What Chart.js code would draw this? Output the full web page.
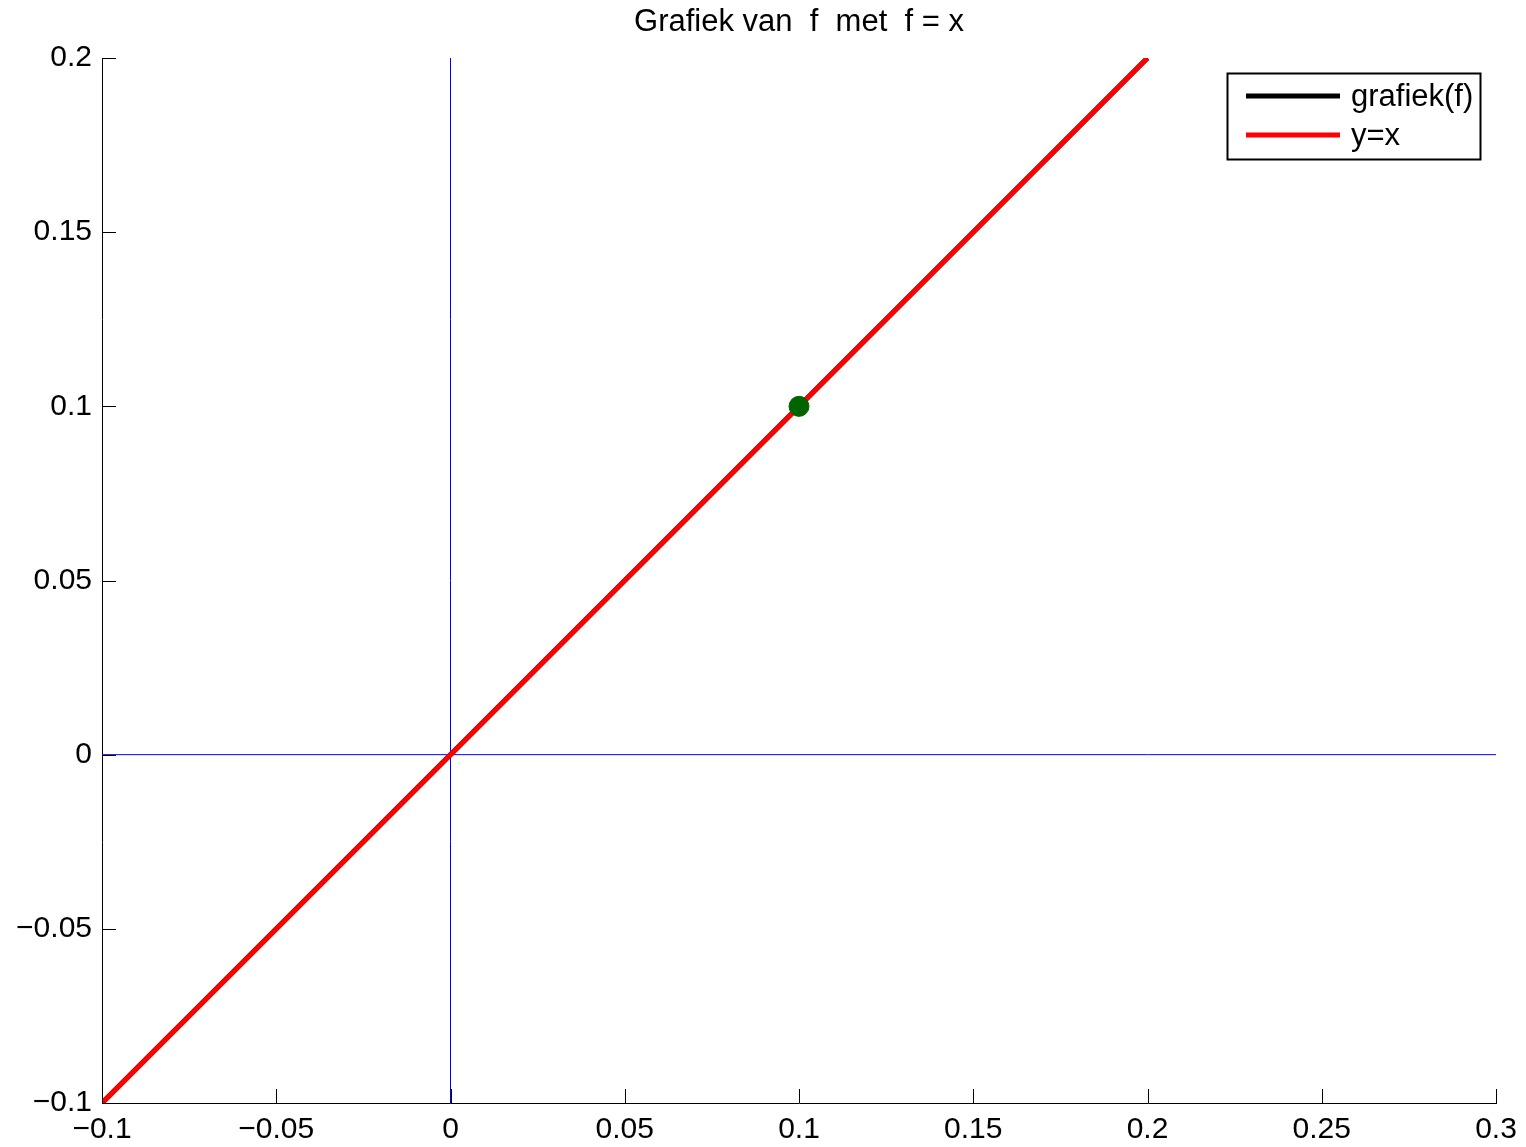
<!DOCTYPE html>
<html>
<head>
<meta charset="utf-8">
<script src="https://cdn.jsdelivr.net/npm/chart.js@4/dist/chart.umd.min.js"></script>
<style>
  html, body { margin: 0; padding: 0; background: #fff; }
  #wrap { width: 1526px; height: 1147px; }
</style>
</head>
<body>
<div id="wrap"><canvas id="grafiek" width="1526" height="1147"></canvas></div>
<script>
// data
const titel = 'Grafiek van  f  met  f = x';
const fX = [-0.1, 0.2];          // grafiek(f)
const fY = [-0.1, 0.2];
const lijnX = [-0.1, 0.2];       // y=x
const lijnY = [-0.1, 0.2];
const puntX = [0.1];             // groene punt
const puntY = [0.1];
const xAsX = [-0.1, 0.3];        // horizontale as y=0
const xAsY = [0, 0];
const yAsX = [0, 0];             // verticale as x=0
const yAsY = [-0.1, 0.2];
const xTickVals = [-0.1, -0.05, 0, 0.05, 0.1, 0.15, 0.2, 0.25, 0.3];
const xTickLabels = ['\u22120.1', '\u22120.05', '0', '0.05', '0.1', '0.15', '0.2', '0.25', '0.3'];
const yTickVals = [-0.1, -0.05, 0, 0.05, 0.1, 0.15, 0.2];
const yTickLabels = ['\u22120.1', '\u22120.05', '0', '0.05', '0.1', '0.15', '0.2'];

const lettertype = '"Liberation Sans", Arial, Helvetica, sans-serif';

function punten(xs, ys) {
  return xs.map((x, i) => ({ x: x, y: ys[i] }));
}

// titel, legenda en tickjes naar binnen
const extraPlugin = {
  id: 'extra',
  afterDraw(chart) {
    const ctx = chart.ctx;
    const ca = chart.chartArea;
    const sx = chart.scales.x, sy = chart.scales.y;
    ctx.save();
    // tickjes
    ctx.strokeStyle = '#000';
    ctx.lineWidth = 1;
    ctx.beginPath();
    xTickVals.forEach(v => {
      const px = Math.round(sx.getPixelForValue(v)) + 0.5;
      ctx.moveTo(px, ca.bottom);
      ctx.lineTo(px, ca.bottom - 14);
    });
    yTickVals.forEach(v => {
      const py = Math.round(sy.getPixelForValue(v)) + 0.5;
      ctx.moveTo(ca.left, py);
      ctx.lineTo(ca.left + 14, py);
    });
    ctx.stroke();

    // titel
    ctx.fillStyle = '#000';
    ctx.font = '31px ' + lettertype;
    ctx.textAlign = 'center';
    ctx.textBaseline = 'middle';
    ctx.fillText(titel, (ca.left + ca.right) / 2, 22);

    // legenda
    const bx = 1227.5, by = 73.5, bw = 253, bh = 86;
    ctx.fillStyle = '#fff';
    ctx.fillRect(bx, by, bw, bh);
    ctx.lineWidth = 2;
    ctx.strokeStyle = '#000';
    ctx.strokeRect(bx, by, bw, bh);
    ctx.font = '31px ' + lettertype;
    const items = chart.data.datasets.filter(d => d.inLegenda);
    items.forEach((d, i) => {
      const ly = 96 + i * 39;
      ctx.beginPath();
      ctx.lineWidth = 5;
      ctx.strokeStyle = d.borderColor;
      ctx.moveTo(1246, ly);
      ctx.lineTo(1340, ly);
      ctx.stroke();
      ctx.fillStyle = '#000';
      ctx.textAlign = 'left';
      ctx.fillText(d.label, 1351, ly + 1);
    });
    ctx.restore();
  }
};

const ctx = document.getElementById('grafiek');
const myChart = new Chart(ctx, {
  type: 'scatter',
  data: {
    datasets: [
      {
        label: 'punt',
        data: punten(puntX, puntY),
        backgroundColor: '#006400',
        borderColor: '#006400',
        pointRadius: 10,
        showLine: false,
        order: 0
      },
      {
        label: 'grafiek(f)',
        inLegenda: true,
        data: punten(fX, fY),
        borderColor: '#000000',
        borderWidth: 5,
        pointRadius: 0,
        showLine: true,
        order: 2
      },
      {
        label: 'y=x',
        inLegenda: true,
        data: punten(lijnX, lijnY),
        borderColor: '#ff0000',
        borderWidth: 5,
        pointRadius: 0,
        showLine: true,
        order: 1
      },
      {
        label: 'x-as',
        data: punten(xAsX, xAsY),
        borderColor: '#0000ff',
        borderWidth: 1,
        pointRadius: 0,
        showLine: true,
        order: 3
      },
      {
        label: 'y-as',
        data: punten(yAsX, yAsY),
        borderColor: '#0000ff',
        borderWidth: 1,
        pointRadius: 0,
        showLine: true,
        order: 3
      }
    ]
  },
  options: {
    responsive: false,
    animation: false,
    devicePixelRatio: 1,
    layout: { padding: { top: 58, right: 30, left: 0, bottom: 0 } },
    plugins: {
      legend: { display: false },
      title: { display: false },
      tooltip: { enabled: false }
    },
    scales: {
      x: {
        type: 'linear',
        min: -0.1,
        max: 0.3,
        grid: { display: false, drawTicks: false },
        border: { display: true, color: '#000', width: 1 },
        afterBuildTicks: s => { s.ticks = xTickVals.map(v => ({ value: v })); },
        afterFit: s => { s.height = 44; },
        ticks: {
          autoSkip: false,
          maxRotation: 0,
          padding: 9,
          color: '#000',
          font: { family: lettertype, size: 30 },
          callback: (v, i) => xTickLabels[i]
        }
      },
      y: {
        type: 'linear',
        min: -0.1,
        max: 0.2,
        grid: { display: false, drawTicks: false },
        border: { display: true, color: '#000', width: 1 },
        afterBuildTicks: s => { s.ticks = yTickVals.map(v => ({ value: v })); },
        afterFit: s => { s.width = 102; },
        ticks: {
          autoSkip: false,
          padding: 10,
          color: '#000',
          font: { family: lettertype, size: 30 },
          callback: (v, i) => yTickLabels[i]
        }
      }
    }
  },
  plugins: [extraPlugin]
});
</script>
</body>
</html>
